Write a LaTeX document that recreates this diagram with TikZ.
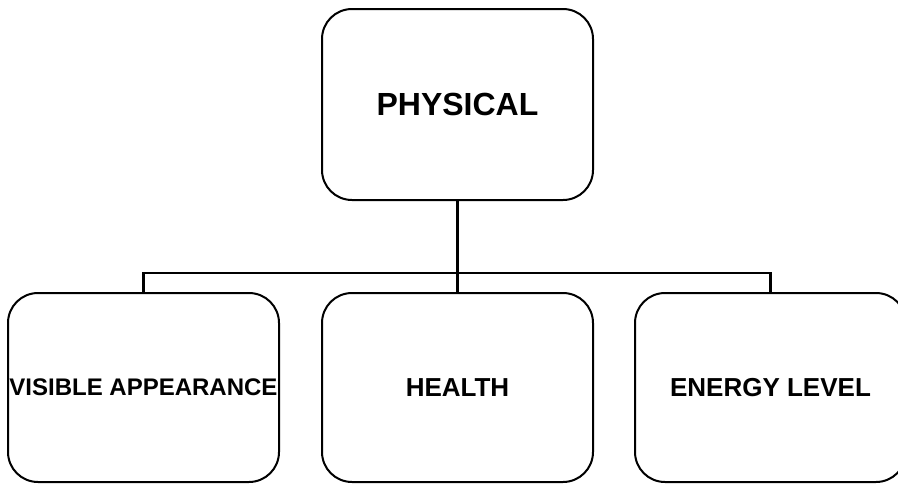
\documentclass[tikz,border=0pt]{standalone}
\usepackage{fontspec}
\setmainfont{Liberation Sans}
\begin{document}
\begin{tikzpicture}[x=1pt,y=-1pt,
  box/.style={draw=black,line width=2pt,rounded corners=30pt,minimum width=271pt,minimum height=189pt,inner sep=0pt,font=\bfseries\fontsize{26}{30}\selectfont},
  wire/.style={draw=black,line width=2.2pt}]
\useasboundingbox (0,0) rectangle (898,483);
\fill[white] (0,0) rectangle (898,483);
\clip (0,0) rectangle (898,483);
\node[box,minimum height=191pt,font=\bfseries\fontsize{32}{36}\selectfont] (top) at (457.5,104.5) {PHYSICAL};
\node[box] (left) at (143.5,387.5) {\fontsize{24}{28}\selectfont VISIBLE APPEARANCE};
\node[box] (mid) at (457.5,387.5) {HEALTH};
\node[box] (right) at (770.5,387.5) {ENERGY LEVEL};
\draw[wire] (top.south) -- (mid.north);
\draw[wire] (left.north) -- ++(0,-19) coordinate (bus) -| (right.north);
\end{tikzpicture}
\end{document}
